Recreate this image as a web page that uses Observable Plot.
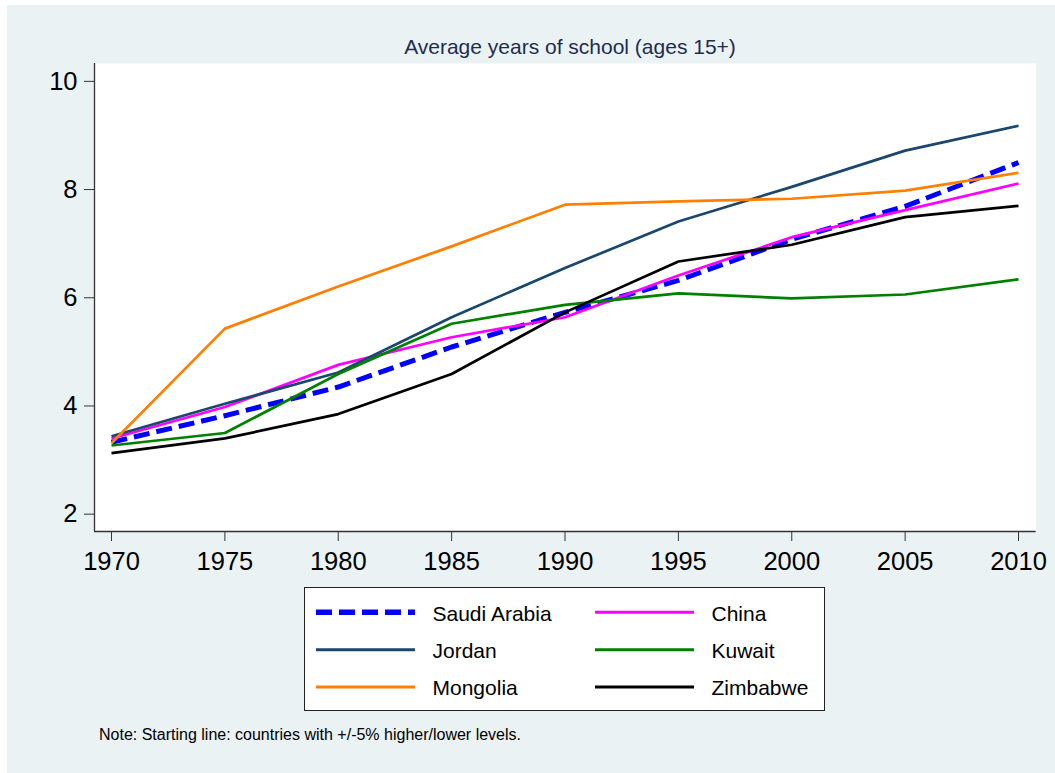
<!DOCTYPE html>
<html>
<head>
<meta charset="utf-8">
<script src="https://cdn.jsdelivr.net/npm/d3@7"></script>
<script src="https://cdn.jsdelivr.net/npm/@observablehq/plot@0.6"></script>
<style>
  html, body { margin: 0; padding: 0; background: #ffffff; }
  #page { position: relative; width: 1055px; height: 773px; overflow: hidden; font-family: "Liberation Sans", Arial, sans-serif; }
  #bg { position: absolute; left: 7px; top: 5px; width: 1048px; height: 768px; background: #eaf2f3; }
  #title { position: absolute; left: 370px; top: 35.7px; width: 400px; text-align: center; font-size: 21px; line-height: 21px; color: #1e2d4f; white-space: nowrap; }
  #chart { position: absolute; left: 0; top: 40px; }
  #legend { position: absolute; left: 304px; top: 587px; }
  #note { position: absolute; left: 99px; top: 726.5px; font-size: 16px; line-height: 16px; color: #000; white-space: nowrap; }
</style>
</head>
<body>
<div id="page">
  <div id="bg"></div>
  <div id="title">Average years of school (ages 15+)</div>
  <div id="chart"></div>
  <svg id="legend" width="521" height="124"></svg>
  <div id="note">Note: Starting line: countries with +/-5% higher/lower levels.</div>
</div>
<script>
// ---- data ----
const years = [1970, 1975, 1980, 1985, 1990, 1995, 2000, 2005, 2010];
const countries = ["Saudi Arabia", "China", "Jordan", "Kuwait", "Mongolia", "Zimbabwe"];
const saudiArabia = [3.33, 3.82, 4.35, 5.09, 5.73, 6.32, 7.08, 7.69, 8.50];
const china       = [3.40, 3.98, 4.76, 5.27, 5.64, 6.41, 7.12, 7.62, 8.11];
const jordan      = [3.44, 4.04, 4.62, 5.64, 6.55, 7.41, 8.05, 8.72, 9.18];
const kuwait      = [3.27, 3.50, 4.59, 5.52, 5.87, 6.08, 5.99, 6.06, 6.34];
const mongolia    = [3.31, 5.43, 6.21, 6.95, 7.72, 7.78, 7.83, 7.98, 8.31];
const zimbabwe    = [3.13, 3.40, 3.85, 4.59, 5.73, 6.67, 6.98, 7.49, 7.70];
const yTicks = [2, 4, 6, 8, 10];
const xTicks = [1970, 1975, 1980, 1985, 1990, 1995, 2000, 2005, 2010];

// ---- styles ----
const seriesValues = [saudiArabia, china, jordan, kuwait, mongolia, zimbabwe];
const colors = ["#0000ff", "#ff00ff", "#1a476f", "#008000", "#ff7f00", "#000000"];
const widths = [5, 2.7, 2.7, 2.7, 2.7, 2.7];
const dashes = ["16,7", null, null, null, null, null];

const xDomain = [1969.25, 2010.78];
const yDomain = [1.68, 10.33];

const rows = [];
countries.forEach((c, i) => {
  years.forEach((yr, j) => rows.push({country: c, year: yr, value: seriesValues[i][j]}));
});

const marks = [
  Plot.frame({fill: "white"}),
];
countries.forEach((c, i) => {
  marks.push(Plot.line(rows.filter(d => d.country === c), {
    x: "year", y: "value",
    stroke: colors[i], strokeWidth: widths[i],
    strokeDasharray: dashes[i] || undefined,
    strokeLinecap: "butt", strokeLinejoin: "round"
  }));
});
marks.push(
  Plot.ruleY([yDomain[0]], {stroke: "#333", strokeWidth: 1.3}),
  Plot.ruleX([xDomain[0]], {stroke: "#333", strokeWidth: 1.3}),
  Plot.axisX(xTicks, {tickSize: 10, tickPadding: 10, tickFormat: d => String(d), stroke: "#333", fill: "#000"}),
  Plot.axisY(yTicks, {tickSize: 10, tickPadding: 7, tickFormat: d => String(d), stroke: "#333", fill: "#000"})
);

const chart = Plot.plot({
  width: 1055,
  height: 560,
  marginTop: 23,
  marginBottom: 69,
  marginLeft: 94,
  marginRight: 19.3,
  x: {domain: xDomain, label: null},
  y: {domain: yDomain, label: null},
  style: {background: "transparent", fontFamily: "'Liberation Sans', Arial, sans-serif", fontSize: "25.5px", overflow: "visible", color: "#000"},
  marks
});
document.getElementById("chart").appendChild(chart);

// ---- legend (line swatches) ----
const leg = d3.select("#legend");
leg.append("rect").attr("x", 0.5).attr("y", 0.5).attr("width", 520).attr("height", 123)
  .attr("fill", "white").attr("stroke", "#222").attr("stroke-width", 1);
const rowY = [25.3, 62.7, 100];
const colX = [12, 291];
countries.forEach((c, i) => {
  const col = i % 2, row = Math.floor(i / 2);
  const g = leg.append("g").attr("transform", `translate(${colX[col]},${rowY[row]})`);
  g.append("line").attr("x1", 0).attr("x2", 99).attr("y1", 0).attr("y2", 0)
    .attr("stroke", colors[i]).attr("stroke-width", i === 0 ? 5.5 : 3)
    .attr("stroke-dasharray", dashes[i]);
  g.append("text").attr("x", 116.5).attr("y", 8.4)
    .attr("font-family", "'Liberation Sans', Arial, sans-serif").attr("font-size", 21)
    .attr("fill", "#000").text(c);
});
</script>
</body>
</html>
